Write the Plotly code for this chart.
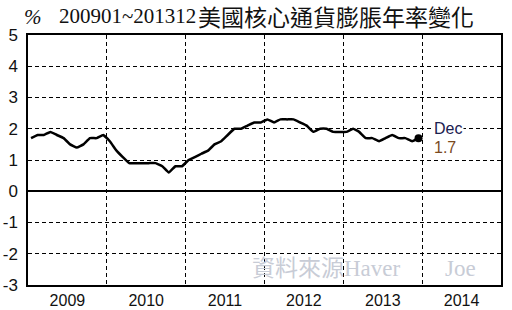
import plotly.graph_objects as go

months = [f"{y}-{m:02d}-15" for y in range(2009, 2014) for m in range(1, 13)]
core_cpi_yoy = [
    1.7, 1.8, 1.8, 1.9, 1.8, 1.7, 1.5, 1.4, 1.5, 1.7, 1.7, 1.8,
    1.6, 1.3, 1.1, 0.9, 0.9, 0.9, 0.9, 0.9, 0.8, 0.6, 0.8, 0.8,
    1.0, 1.1, 1.2, 1.3, 1.5, 1.6, 1.8, 2.0, 2.0, 2.1, 2.2, 2.2,
    2.3, 2.2, 2.3, 2.3, 2.3, 2.2, 2.1, 1.9, 2.0, 2.0, 1.9, 1.9,
    1.9, 2.0, 1.9, 1.7, 1.7, 1.6, 1.7, 1.8, 1.7, 1.7, 1.6, 1.7,
]
y_ticks = [-3, -2, -1, 0, 1, 2, 3, 4, 5]
y_tick_labels = ["-3", "-2", "-1", "0", "1", "2", "3", "4", "5"]
title_num = "200901~201312"
title_cjk = "美國核心通貨膨脹年率變化"
last_label = "Dec"
last_value = "1.7"
watermark_src = "資料來源Haver"
watermark_author = "Joe"

fig = go.Figure()
fig.add_trace(go.Scatter(
    x=months, y=core_cpi_yoy, mode="lines",
    line=dict(color="black", width=2.5, shape="spline", smoothing=0.3),
    hoverinfo="skip", showlegend=False,
))
fig.add_trace(go.Scatter(
    x=[months[-1]], y=[core_cpi_yoy[-1]], mode="markers",
    marker=dict(color="black", size=8), showlegend=False, hoverinfo="skip",
))

fig.update_layout(
    width=512, height=310,
    margin=dict(l=28, r=11, t=35, b=25),
    paper_bgcolor="white", plot_bgcolor="white",
    font=dict(family="Arial, Liberation Sans", color="#111"),
    xaxis=dict(
        type="date", range=["2009-01-01", "2015-01-01"], automargin=False,
        dtick="M12", tick0="2009-01-01", ticklabelmode="period",
        tickformat="%Y", showgrid=True, gridcolor="black", griddash="4px,3px",
        gridwidth=1, ticks="", showline=True, linecolor="black", linewidth=1.5,
        mirror=True, tickfont=dict(size=16, color="#111"), zeroline=False,
    ),
    yaxis=dict(
        range=[-3, 5], tickvals=y_ticks, ticktext=y_tick_labels, showgrid=True,
        gridcolor="black", griddash="4px,3px", gridwidth=1, zeroline=True,
        zerolinecolor="black", zerolinewidth=1.5, showline=True,
        linecolor="black", linewidth=1.5, mirror=True, ticks="",
        tickfont=dict(size=17, color="#111"), ticklabelstandoff=5,
        automargin=False,
    ),
)

fig.add_annotation(xref="paper", yref="paper", x=-0.01, y=1.07, yanchor="middle",
                   xanchor="left", text="<i>%</i>", showarrow=False, borderpad=0,
                   font=dict(family="Liberation Serif", size=21, color="#111"))
fig.add_annotation(xref="paper", yref="paper", x=0.063, y=1.075, yanchor="middle",
                   xanchor="left", text=title_num, showarrow=False, borderpad=0,
                   font=dict(family="Liberation Serif", size=21, color="#111"))
fig.add_annotation(xref="paper", yref="paper", x=0.358, y=1.074, yanchor="middle",
                   xanchor="left", text=title_cjk, showarrow=False, borderpad=0,
                   font=dict(family="Noto Sans CJK TC", size=23, color="#111"))
fig.add_annotation(x=months[-1], y=core_cpi_yoy[-1], text=last_label, showarrow=False,
                   xanchor="left", yanchor="middle", xshift=13, yshift=10,
                   bgcolor="white", borderpad=1, font=dict(size=16, color="#1a2050"))
fig.add_annotation(x=months[-1], y=core_cpi_yoy[-1], text=last_value, showarrow=False,
                   xanchor="left", yanchor="middle", xshift=13, yshift=-9,
                   font=dict(size=16, color="#7a4a1e"))
fig.add_annotation(xref="paper", yref="y", x=0.469, y=-2.48, text=watermark_src,
                   showarrow=False, xanchor="left", yanchor="middle",
                   font=dict(family="Liberation Serif, Noto Sans CJK TC", size=23, color="#c8ccd6"))
fig.add_annotation(xref="paper", yref="y", x=0.877, y=-2.48, text=watermark_author,
                   showarrow=False, xanchor="left", yanchor="middle",
                   font=dict(family="Liberation Serif", size=23, color="#c8ccd6"))

fig.write_html("out.html")
